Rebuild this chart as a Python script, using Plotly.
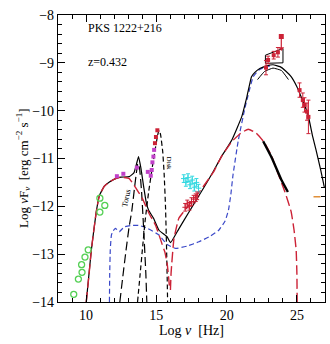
import plotly.graph_objects as go

# ---------------- data (log nu [Hz], log nuFnu) ----------------
sync_x = [10.01, 10.2, 10.37, 10.72, 10.95, 11.3, 11.66, 12.1, 12.48, 13.07, 13.5, 14.01, 14.48, 14.95, 15.42, 15.6, 15.77, 15.89, 15.95]
sync_y = [-14.0, -13.45, -12.92, -12.12, -11.77, -11.58, -11.49, -11.42, -11.39, -11.42, -11.6, -11.84, -12.15, -12.4, -12.8, -12.95, -13.2, -13.54, -13.75]

ssc_x = [16.0, 16.05, 16.25, 16.6, 17.3, 18.13, 19.07, 19.65, 20.36, 21.0, 21.54, 22.1, 22.72, 23.2, 23.65, 24.15, 24.59, 24.8, 24.95, 25.0, 25.02]
ssc_y = [-13.75, -13.38, -12.68, -12.25, -11.98, -11.67, -11.28, -10.95, -10.65, -10.47, -10.39, -10.47, -10.68, -10.95, -11.31, -11.7, -12.11, -12.5, -12.92, -13.4, -14.0]

ec_x = [11.66, 11.68, 11.72, 11.8, 11.89, 12.08, 12.36, 12.72, 13.2, 13.78, 14.36, 15.19, 15.77, 16.37, 17.2, 18.03, 18.8, 19.44, 19.9, 20.13, 20.3, 20.45, 20.83, 21.3, 21.89, 22.3, 22.8, 23.3]
ec_y = [-14.0, -13.4, -12.9, -12.6, -12.53, -12.46, -12.53, -12.43, -12.4, -12.4, -12.46, -12.6, -12.8, -12.88, -12.83, -12.74, -12.63, -12.5, -12.3, -12.08, -11.75, -11.35, -10.62, -9.95, -9.29, -9.15, -9.08, -9.05]

total_x = [10.01, 10.37, 10.72, 10.95, 11.3, 11.66, 12.1, 12.48, 13.07, 13.4, 13.6, 13.73, 13.9, 14.1, 14.3, 14.45, 14.8, 15.19, 15.77, 16.01, 16.6, 17.3, 18.0, 18.72, 19.07, 19.65, 20.36, 21.07, 21.45, 21.77, 22.01, 22.36, 22.8, 23.3, 23.8, 24.2, 24.59, 25.0, 25.3, 25.77, 26.13, 26.36, 26.7, 26.95]
total_y = [-14.0, -12.92, -12.12, -11.77, -11.58, -11.49, -11.42, -11.39, -11.38, -11.3, -11.1, -10.96, -11.2, -11.6, -11.95, -12.08, -12.25, -12.5, -12.64, -12.76, -12.47, -12.13, -11.79, -11.44, -11.26, -10.95, -10.62, -10.13, -9.7, -9.29, -9.2, -9.12, -9.07, -9.04, -9.08, -9.17, -9.29, -9.5, -9.71, -10.06, -10.55, -10.82, -11.25, -11.6]

inner_x = [22.2, 22.7, 23.3, 23.9, 24.4]
inner_y = [-9.35, -9.18, -9.11, -9.16, -9.35]

thick_x = [22.6, 23.2, 23.9, 24.36]
thick_y = [-10.64, -10.98, -11.45, -11.7]

torus_x = [12.4, 12.6, 12.84, 13.05, 13.25, 13.45, 13.6, 13.68, 13.8, 13.95, 14.1, 14.25, 14.32]
torus_y = [-14.0, -13.5, -12.92, -12.45, -12.1, -11.6, -11.25, -11.1, -11.2, -11.7, -12.5, -13.4, -14.0]

disk_x = [13.66, 13.85, 14.0, 14.2, 14.45, 14.7, 14.95, 15.1, 15.19, 15.3, 15.45, 15.55, 15.65, 15.72, 15.77, 15.8]
disk_y = [-14.0, -13.4, -12.92, -12.3, -11.7, -11.2, -10.75, -10.5, -10.41, -10.5, -10.85, -11.3, -12.0, -12.8, -13.5, -14.0]

radio_x = [9.12, 9.45, 9.68, 9.71, 9.92, 10.15, 10.98, 10.98, 11.33]
radio_y = [-13.84, -13.52, -13.22, -13.38, -13.06, -12.91, -11.83, -12.12, -11.98]

ir_x = [12.19, 12.65, 13.61, 14.39, 14.6, 14.67, 14.72, 14.79, 14.84]
ir_y = [-11.37, -11.32, -11.19, -11.28, -11.36, -11.24, -11.08, -10.96, -10.82]

opt_x = [14.9, 14.97, 15.07]
opt_y = [-10.68, -10.55, -10.41]

xc_x = [16.95, 17.1, 17.25, 17.4, 17.55, 17.7, 17.85, 18.0]
xc_y = [-11.42, -11.5, -11.4, -11.55, -11.45, -11.6, -11.5, -11.62]

xr_x = [17.05, 17.2, 17.35, 17.5, 17.65, 17.8, 17.9]
xr_y = [-12.02, -11.95, -12.0, -11.9, -11.85, -11.82, -11.78]

gpk_x = [22.8, 22.95, 23.35, 23.65]
gpk_y = [-9.1, -8.94, -8.84, -8.78]
gpk_e = [0.15, 0.08, 0.08, 0.1]

ul_x = [23.89]
ul_y = [-8.45]

fermi_x = [25.19, 25.42, 25.54, 25.72, 25.82]
fermi_y = [-9.57, -9.78, -9.88, -10.02, -10.13]
fermi_e = [0.15, 0.15, 0.15, 0.18, 0.35]

bt_x = [22.76, 22.76, 24.01, 24.01, 22.76]
bt_y = [-9.01, -8.84, -8.70, -9.0, -9.01]

misc_x = [26.43]
misc_y = [-11.8]

RED = "#cc2236"
BLUE = "#3a48c8"
SERIF = "Liberation Serif"

fig = go.Figure()

def line(x, y, color, width, dash="solid", shape="spline", smooth=0.35):
    fig.add_trace(go.Scatter(x=x, y=y, mode="lines",
                             line=dict(color=color, width=width, dash=dash, shape=shape,
                                       smoothing=smooth if shape == "spline" else None),
                             hoverinfo="skip"))

# model curves
line(ec_x, ec_y, BLUE, 1.2, "5px,3px")
line(total_x, total_y, "black", 1.2)
line(inner_x, inner_y, "black", 1.0)
line(torus_x, torus_y, "black", 1.2, "9px,4px")
line(disk_x, disk_y, "black", 1.2, "5px,3px")
line(sync_x, sync_y, RED, 1.4, "10px,4px")
line(ssc_x, ssc_y, RED, 1.4, "10px,4px")
line(thick_x, thick_y, "black", 2.4)
line(bt_x, bt_y, "black", 1.0, "solid", "linear")

# data points
fig.add_trace(go.Scatter(x=radio_x, y=radio_y, mode="markers",
                         marker=dict(symbol="circle-open", size=6, color="#55d055", line=dict(width=1.3))))
fig.add_trace(go.Scatter(x=ir_x, y=ir_y, mode="markers",
                         marker=dict(symbol="square", size=4, color="#c040c8")))
fig.add_trace(go.Scatter(x=opt_x, y=opt_y, mode="markers",
                         marker=dict(symbol="square", size=4, color=RED)))
fig.add_trace(go.Scatter(x=xc_x, y=xc_y, mode="markers",
                         error_y=dict(type="constant", value=0.08, color="#33d8e0", thickness=1, width=2),
                         marker=dict(symbol="cross-thin", size=4, color="#33d8e0", line=dict(width=1, color="#33d8e0"))))
fig.add_trace(go.Scatter(x=xr_x, y=xr_y, mode="markers",
                         error_y=dict(type="constant", value=0.08, color=RED, thickness=1, width=2),
                         marker=dict(symbol="cross-thin", size=4, color=RED, line=dict(width=1, color=RED))))
fig.add_trace(go.Scatter(x=gpk_x, y=gpk_y, mode="markers",
                         error_y=dict(type="data", array=gpk_e, color=RED, thickness=1, width=2),
                         marker=dict(symbol="square", size=4, color=RED)))
fig.add_trace(go.Scatter(x=ul_x, y=ul_y, mode="markers",
                         error_y=dict(type="data", array=[0], arrayminus=[0.25], color=RED, thickness=1.2, width=0),
                         marker=dict(symbol="square", size=5, color=RED)))
fig.add_trace(go.Scatter(x=ul_x, y=[v - 0.25 for v in ul_y], mode="markers",
                         marker=dict(symbol="triangle-down", size=5, color=RED)))
fig.add_trace(go.Scatter(x=fermi_x, y=fermi_y, mode="markers",
                         error_y=dict(type="data", array=fermi_e, color=RED, thickness=1, width=2),
                         marker=dict(symbol="square", size=4, color=RED)))
fig.add_trace(go.Scatter(x=misc_x, y=misc_y, mode="markers",
                         marker=dict(symbol="line-ew", size=5, color="#e0903a", line=dict(width=1.5, color="#e0903a"))))

axis_common = dict(showline=True, linecolor="black", linewidth=1.2, mirror="allticks",
                   ticks="inside", ticklen=7, tickwidth=1.1, tickcolor="black",
                   showgrid=False, zeroline=False,
                   tickfont=dict(family=SERIF, size=14, color="black"))

fig.update_xaxes(range=[8, 27], tick0=0, dtick=5,
                 minor=dict(ticks="inside", dtick=1, ticklen=4, tickcolor="black", tickwidth=1, showgrid=False),
                 **axis_common)
fig.update_yaxes(range=[-14, -8], tick0=0, dtick=1,
                 minor=dict(ticks="inside", dtick=0.2, ticklen=4, tickcolor="black", tickwidth=1, showgrid=False),
                 **axis_common)

fig.update_layout(
    width=330, height=344,
    margin=dict(l=58, r=5, t=15, b=42),
    paper_bgcolor="white", plot_bgcolor="white",
    showlegend=False,
    annotations=[
        dict(x=9.96, y=-8.27, xref="x", yref="y", text="PKS 1222+216", showarrow=False,
             xanchor="left", yanchor="middle", font=dict(family=SERIF, size=12, color="black")),
        dict(x=9.96, y=-8.98, xref="x", yref="y", text="z=0.432", showarrow=False,
             xanchor="left", yanchor="middle", font=dict(family=SERIF, size=12, color="black")),
        dict(x=12.84, y=-11.83, xref="x", yref="y", text="Torus", showarrow=False, textangle=-78,
             font=dict(family=SERIF, size=8, color="black")),
        dict(x=15.89, y=-11.1, xref="x", yref="y", text="Disk", showarrow=False, textangle=90,
             font=dict(family=SERIF, size=7, color="black")),
        dict(x=0.5, y=-0.1, xref="paper", yref="paper", yanchor="middle",
             text="Log <i>ν</i>  [Hz]", showarrow=False,
             font=dict(family=SERIF, size=14, color="black")),
        dict(x=-0.172, y=0.467, xref="paper", yref="paper", textangle=-90,
             text="Log <i>ν</i>F<sub><i>ν</i></sub>  [erg cm<sup>−2</sup> s<sup>−1</sup>]", showarrow=False,
             font=dict(family=SERIF, size=13, color="black")),
    ],
)

fig.write_html("out.html")
